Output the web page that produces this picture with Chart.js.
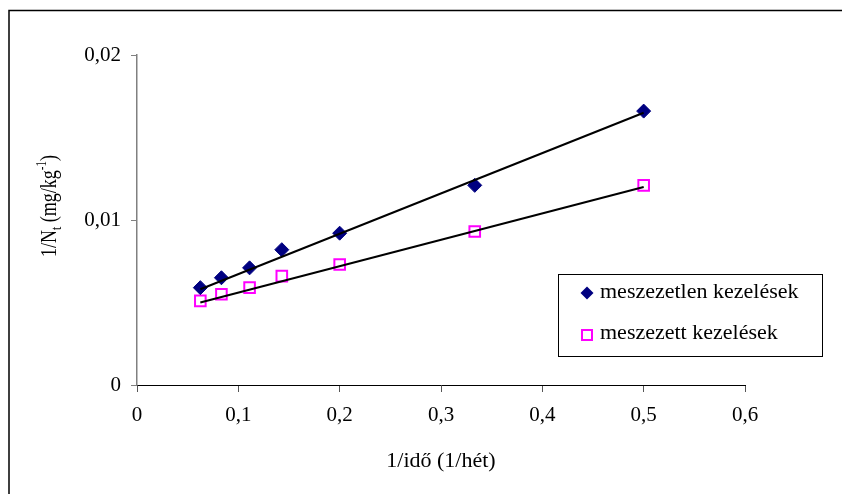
<!DOCTYPE html>
<html>
<head>
<meta charset="utf-8">
<script src="https://cdn.jsdelivr.net/npm/chart.js@4.4.1/dist/chart.umd.min.js"></script>
<style>
  html,body{margin:0;padding:0;background:#fff;}
  canvas{display:block;}
</style>
</head>
<body>
<canvas id="c" width="842" height="494"></canvas>
<script>
// ── Data ──────────────────────────────────────────────────────────────────────
const xVals        = [0.0625, 0.0833, 0.1111, 0.1429, 0.2, 0.3333, 0.5];   // 1/idő (1/hét)
const unlimedVals  = [0.0059, 0.0065, 0.0071, 0.0082, 0.0092, 0.0121, 0.0166];
const limedVals    = [0.0051, 0.0055, 0.0059, 0.0066, 0.0073, 0.0093, 0.0121];
const trendX       = [0.0625, 0.5];
const trendUnlimed = [0.0058, 0.0165];
const trendLimed   = [0.0050, 0.0120];
const seriesNames  = ['meszezetlen kezelések', 'meszezett kezelések'];
const xTitle       = '1/idő (1/hét)';
const yTitleParts  = ['1/N', 't', ' (mg/kg', '-1', ')'];

const SERIF = '"Liberation Serif", "Times New Roman", serif';
const NAVY = '#000080', MAG = '#ff00ff';
const pts = (xs, ys) => xs.map((x, i) => ({x, y: ys[i]}));
const fmt = v => { const s = String(+v.toFixed(3)); return s === '0' ? '0' : s.replace('.', ','); };

// ── Decorations: frame, axis titles, legend box ───────────────────────────────
const deco = {
  id: 'deco',
  afterDraw(chart) {
    const ctx = chart.ctx;
    ctx.save();
    // outer frame (only top & left edges fall inside the picture)
    ctx.strokeStyle = '#000'; ctx.lineWidth = 1.5;
    ctx.beginPath(); ctx.moveTo(9, 500); ctx.lineTo(9, 10.5); ctx.lineTo(850, 10.5); ctx.stroke();

    ctx.fillStyle = '#000'; ctx.textBaseline = 'middle';
    // x title
    ctx.textAlign = 'center'; ctx.font = '22px ' + SERIF;
    ctx.fillText(xTitle, 441, 461);

    // y title, rotated, with subscript / superscript (glyphs a bit widened like the source)
    ctx.save();
    ctx.textAlign = 'left';
    ctx.translate(50, 206); ctx.rotate(-Math.PI / 2); ctx.scale(1, 1.3);
    const sizes = [18, 12, 18, 11, 18], dy = [0, 5, 0, -6, 0];
    let tot = 0;
    yTitleParts.forEach((p, i) => { ctx.font = sizes[i] + 'px ' + SERIF; tot += ctx.measureText(p).width; });
    let px = -tot / 2;
    yTitleParts.forEach((p, i) => {
      ctx.font = sizes[i] + 'px ' + SERIF;
      ctx.fillText(p, px, dy[i]); px += ctx.measureText(p).width;
    });
    ctx.restore();

    // legend box
    ctx.strokeStyle = '#000'; ctx.lineWidth = 1;
    ctx.fillStyle = '#fff'; ctx.fillRect(558.5, 274.5, 264, 82);
    ctx.strokeRect(558.5, 274.5, 264, 82);
    ctx.fillStyle = NAVY; ctx.beginPath();
    ctx.moveTo(587, 286.5); ctx.lineTo(593.5, 293); ctx.lineTo(587, 299.5); ctx.lineTo(580.5, 293); ctx.closePath(); ctx.fill();
    ctx.strokeStyle = MAG; ctx.lineWidth = 2; ctx.strokeRect(582, 330, 10, 10);
    ctx.fillStyle = '#000'; ctx.textAlign = 'left'; ctx.font = '22px ' + SERIF;
    ctx.fillText(seriesNames[0], 600, 292.5);
    ctx.fillText(seriesNames[1], 600, 333.5);
    ctx.restore();
  }
};

new Chart(document.getElementById('c'), {
  type: 'scatter',
  data: {
    datasets: [
      {type:'line', data:pts(trendX, trendUnlimed), borderColor:'#000', borderWidth:2, pointRadius:0, order:0},
      {type:'line', data:pts(trendX, trendLimed),   borderColor:'#000', borderWidth:2, pointRadius:0, order:0},
      {label:seriesNames[0], data:pts(xVals, unlimedVals), pointStyle:'rectRot', pointRadius:7,
       backgroundColor:NAVY, borderColor:NAVY, borderWidth:1, order:1},
      {label:seriesNames[1], data:pts(xVals, limedVals), pointStyle:'rect', pointRadius:7.5,
       backgroundColor:'#fff', borderColor:MAG, borderWidth:2, order:1}
    ]
  },
  options: {
    responsive:false, animation:false, events:[],
    layout:{padding:{left:0, top:55, right:97, bottom:0}},
    plugins:{legend:{display:false}, tooltip:{enabled:false}},
    scales:{
      x:{type:'linear', min:0, max:0.6,
         afterFit:s=>{s.height=109;},
         ticks:{stepSize:0.1, callback:fmt, color:'#000', padding:11, maxRotation:0,
                font:{family:SERIF, size:21}},
         grid:{drawOnChartArea:false, tickLength:7, color:'#555'},
         border:{color:'#000', width:1}},
      y:{type:'linear', min:0, max:0.02,
         afterFit:s=>{s.width=137;},
         ticks:{stepSize:0.01, callback:fmt, color:'#000', padding:10,
                font:{family:SERIF, size:21}},
         grid:{drawOnChartArea:false, tickLength:6, color:'#808080'},
         border:{color:'#808080', width:1.5}}
    }
  },
  plugins:[deco]
});
</script>
</body>
</html>
